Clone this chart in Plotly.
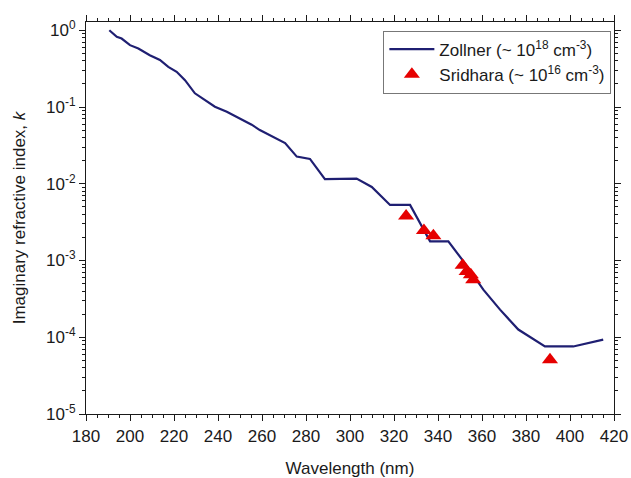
import numpy as np
import plotly.graph_objects as go

# Zollner (~1e18 cm^-3) imaginary refractive index
zollner_wl = [190.6, 192.4, 194, 196.2, 200, 203.8, 209, 213.6, 217.4, 221.2, 225, 229.5,
              234, 238.6, 244, 250, 255.3, 259, 264.4, 270.5, 275.8, 281.8, 288.6, 294,
              303, 309.9, 318.2, 327.3, 332.6, 336.4, 344.7, 351.5, 360.6, 368.2, 376.5,
              388.6, 401.5, 415.1]
zollner_k = [1.0, 0.89, 0.82, 0.78, 0.64, 0.578, 0.473, 0.41, 0.334, 0.288, 0.224, 0.151,
             0.123, 0.101, 0.087, 0.0713, 0.0589, 0.0501, 0.0412, 0.0339, 0.0226, 0.0211,
             0.0115, 0.0116, 0.0117, 0.0091, 0.0053, 0.0053, 0.00282, 0.00178, 0.00178,
             0.00098, 0.000417, 0.000229, 0.000126, 0.0000759, 0.0000759, 0.0000933]

# Sridhara (~1e16 cm^-3)
sridhara_wl = [325.5, 333.6, 337.9, 351.2, 353, 354.9, 356, 390.9]
sridhara_k = [0.0038, 0.00247, 0.0021, 0.00087, 0.00072, 0.00065, 0.00056, 0.000051]

ytick_vals = [1, 0.1, 0.01, 0.001, 0.0001, 0.00001]
ytick_text = ["10<sup>0</sup>", "10<sup>-1</sup>", "10<sup>-2</sup>", "10<sup>-3</sup>",
              "10<sup>-4</sup>", "10<sup>-5</sup>"]
xtick_vals = list(range(180, 421, 20))

minor_y = [m * 10.0 ** e for e in range(-5, 1) for m in range(2, 10)]

font_family = "Liberation Sans, Arial, sans-serif"
ink = "#1a1a1a"
x_range = [180, 420]
y_range = [-5, 0.108]

fig = go.Figure()
fig.add_trace(go.Scatter(
    x=zollner_wl, y=zollner_k, mode="lines",
    line=dict(color="#1f1f72", width=2.2),
    name="Zollner (~ 10<sup>18</sup> cm<sup>-3</sup>)"))
fig.add_trace(go.Scatter(
    x=sridhara_wl, y=sridhara_k, mode="markers",
    marker=dict(symbol="triangle-up", color="#e60000", size=14, line=dict(width=0)),
    name="Sridhara (~ 10<sup>16</sup> cm<sup>-3</sup>)"))
# invisible trace so the mirrored top/right axes are drawn
fig.add_trace(go.Scatter(
    x=zollner_wl, y=zollner_k, xaxis="x2", yaxis="y2", mode="lines",
    line=dict(width=0), opacity=0, showlegend=False, hoverinfo="skip"))

axis_common = dict(showline=True, linecolor=ink, linewidth=1.2, automargin=False,
                   ticks="outside", ticklen=6, tickwidth=1.2, tickcolor=ink,
                   showgrid=False, zeroline=False,
                   tickfont=dict(size=17, color=ink, family=font_family))
x_minor = dict(ticks="outside", ticklen=3, tickwidth=1, tickcolor=ink,
               dtick=5, tick0=180, showgrid=False)
y_minor = dict(ticks="outside", ticklen=3, tickwidth=1, tickcolor=ink,
               tickmode="array", tickvals=minor_y, showgrid=False)

fig.update_layout(
    xaxis=dict(range=x_range, tickmode="array", tickvals=xtick_vals, minor=x_minor,
               title=dict(text="Wavelength (nm)",
                          font=dict(size=17, color=ink, family=font_family), standoff=17),
               **axis_common),
    yaxis=dict(type="log", range=y_range, tickmode="array", tickvals=ytick_vals,
               ticktext=ytick_text, minor=y_minor,
               title=dict(text="Imaginary refractive index, <i>k</i>",
                          font=dict(size=17, color=ink, family=font_family), standoff=16),
               **axis_common),
    xaxis2=dict(range=x_range, overlaying="x", side="top", anchor="y2",
                tickmode="array", tickvals=xtick_vals, minor=x_minor,
                showticklabels=False, **axis_common),
    yaxis2=dict(type="log", range=y_range, overlaying="y", side="right", anchor="x2",
                tickmode="array", tickvals=ytick_vals, minor=y_minor,
                showticklabels=False, **axis_common),
    width=631, height=478,
    margin=dict(l=86, r=17, t=22, b=64),
    paper_bgcolor="white", plot_bgcolor="white",
    font=dict(family=font_family, color=ink),
    showlegend=True,
    legend=dict(x=0.995, y=0.978, xanchor="right", yanchor="top",
                bordercolor="#777", borderwidth=1, bgcolor="white",
                font=dict(size=17, color=ink, family=font_family),
                tracegroupgap=0, itemwidth=45),
)

fig.write_html("out.html", config={"displayModeBar": False},
               post_script="document.body.style.margin='0';")
